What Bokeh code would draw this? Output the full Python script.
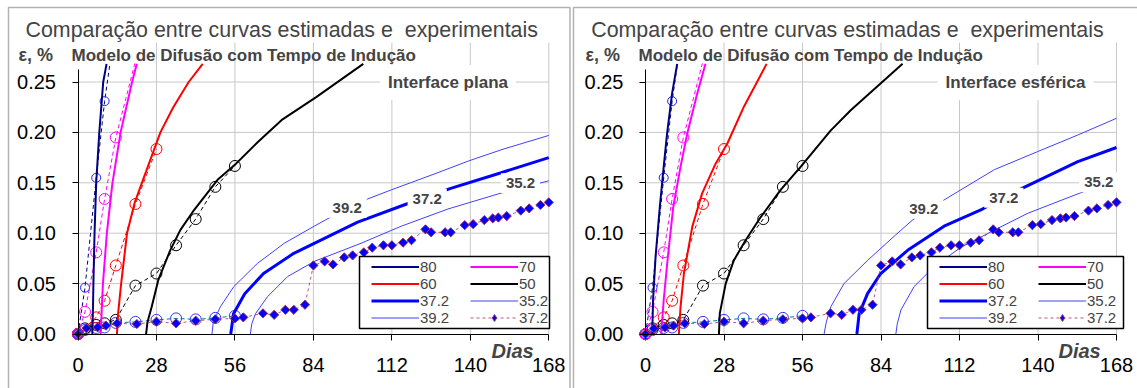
import math
from bokeh.plotting import figure
from bokeh.models import (Range1d, FixedTicker, PrintfTickFormatter, Label, Legend,
                          LegendItem, BoxAnnotation)
from bokeh.layouts import row
from bokeh.embed import file_html
from bokeh.resources import INLINE

FONT = "Liberation Sans"

x_ticks = [0, 28, 56, 84, 112, 140, 168]
y_ticks = [0.00, 0.05, 0.10, 0.15, 0.20, 0.25]

# ---------------- experimental data (same in both panels) ----------------
exp80_days = [0, 2.5, 6.5, 9.5, 13.5]
exp80_eps = [0, 0.046, 0.155, 0.231, 0.309]
exp70_days = [0, 2.5, 6.5, 9.5, 13.5, 21]
exp70_eps = [0, 0.022, 0.081, 0.134, 0.195, 0.276]
exp60_days = [0, 6.5, 9.5, 13.5, 20.5, 28]
exp60_eps = [0, 0.0165, 0.033, 0.068, 0.129, 0.1835]
exp50_days = [0, 2.5, 6.5, 9.5, 13.5, 20.5, 28, 35, 42, 49, 56]
exp50_eps = [0, 0.0056, 0.009, 0.0106, 0.014, 0.048, 0.060, 0.088, 0.114, 0.146, 0.1667]
exp372c_days = [0, 2.5, 6.5, 9.5, 13.5, 20.5, 28, 35, 42, 49, 56]
exp372c_eps = [0, 0.004, 0.006, 0.0065, 0.011, 0.012, 0.014, 0.0155, 0.0145, 0.016, 0.018]

dia_days = [0, 3, 7, 10, 14, 21, 28, 35, 42, 49, 56, 59, 66, 70, 74, 77, 81, 84, 88, 91,
            95, 98, 102, 105, 109, 112, 116, 119, 124, 126, 131, 133, 138, 141, 145, 148,
            150, 153, 158, 161, 165, 168]
dia_eps = [0, 0.0056, 0.0066, 0.0083, 0.0106, 0.0099, 0.0122, 0.0106, 0.0132, 0.0146,
           0.0155, 0.0165, 0.0205, 0.019, 0.024, 0.024, 0.029, 0.068, 0.072, 0.069,
           0.076, 0.078, 0.081, 0.0856, 0.088, 0.088, 0.0906, 0.093, 0.1038, 0.1009,
           0.1009, 0.1009, 0.108, 0.109, 0.113, 0.1147, 0.1155, 0.117, 0.1224, 0.1246,
           0.128, 0.1306]

# ---------------- model curves: planar interface ----------------
pl80_days = [5.1, 5.3, 5.5, 5.9, 6.5, 7.6, 9.0, 10.2]
pl80_eps = [0, 0.02, 0.05, 0.10, 0.15, 0.20, 0.25, 0.268]
pl70_days = [8.1, 8.4, 8.9, 10.3, 12.3, 15.2, 19.3, 21.0]
pl70_eps = [0, 0.02, 0.05, 0.10, 0.15, 0.20, 0.25, 0.268]
pl60_days = [13.9, 14.3, 15.4, 17.5, 20.2, 22.8, 29.4, 34.0, 39.5, 44.5]
pl60_eps = [0, 0.02, 0.05, 0.10, 0.13, 0.15, 0.20, 0.225, 0.25, 0.268]
pl50_days = [24.3, 24.8, 26.3, 28.7, 32.9, 36.5, 41.4, 49.8, 56.4, 64, 73, 85, 101.8]
pl50_eps = [0, 0.012, 0.027, 0.054, 0.083, 0.103, 0.123, 0.153, 0.169, 0.19, 0.213, 0.235, 0.268]
pl392_days = [47.8, 48.3, 50.8, 55.6, 64, 73.6, 84.3, 96, 103.4, 111.8, 127.4, 139.4, 151.3, 168]
pl392_eps = [0, 0.012, 0.027, 0.047, 0.070, 0.090, 0.107, 0.125, 0.134, 0.143, 0.159, 0.1717, 0.183, 0.197]
pl372_days = [54.5, 55.5, 59.5, 66.2, 77, 84.3, 99.8, 116.3, 133, 151, 168]
pl372_eps = [0, 0.02, 0.04, 0.06, 0.08, 0.09, 0.111, 0.128, 0.1445, 0.160, 0.175]
pl352_days = [61.5, 62, 63.3, 67.6, 74.8, 84.3, 101, 115.4, 132, 150, 168]
pl352_eps = [0, 0.01, 0.020, 0.037, 0.057, 0.072, 0.090, 0.107, 0.124, 0.139, 0.152]

# ---------------- model curves: spherical interface ----------------
sp80_days = [2.4, 2.7, 3.6, 5.1, 6.5, 7.7, 9.5, 11.3]
sp80_eps = [0, 0.034, 0.077, 0.126, 0.166, 0.199, 0.239, 0.268]
sp70_days = [5.6, 6.5, 8.0, 9.9, 12.5, 14.9, 18.5, 21.4]
sp70_eps = [0, 0.034, 0.077, 0.126, 0.166, 0.199, 0.239, 0.268]
sp60_days = [11.9, 12.5, 13.7, 16.7, 20.2, 25, 29.2, 35.1, 43.2]
sp60_eps = [0, 0.027, 0.060, 0.1065, 0.1395, 0.169, 0.189, 0.2255, 0.268]
sp50_days = [26.2, 26.5, 28.6, 31.5, 35.7, 41.1, 48.2, 55.4, 66.1, 73.2, 91.7]
sp50_eps = [0, 0.0205, 0.050, 0.073, 0.093, 0.116, 0.143, 0.166, 0.202, 0.222, 0.268]
sp392_days = [63.7, 64.5, 66.1, 70.8, 79.2, 88.7, 95.2, 99.4, 106.5, 124.4, 139.9, 154.2, 168]
sp392_eps = [0, 0.012, 0.027, 0.050, 0.073, 0.097, 0.113, 0.121, 0.133, 0.163, 0.181, 0.1974, 0.214]
sp372_days = [75.4, 76.2, 79.2, 83.9, 93.5, 106.5, 120.2, 128, 136.9, 154.2, 168]
sp372_eps = [0, 0.020, 0.040, 0.060, 0.083, 0.107, 0.124, 0.136, 0.148, 0.171, 0.185]
sp352_days = [89.3, 89.8, 91.1, 95.8, 103, 112.5, 124.4, 136.3, 154.2, 161.9, 168]
sp352_eps = [0, 0.01, 0.0238, 0.047, 0.067, 0.086, 0.103, 0.1197, 0.139, 0.147, 0.154]

curve_label_texts = ["39.2", "37.2", "35.2"]

NAVY = "#000080"
MAG = "#FF00FF"
RED = "#FF0000"
BLK = "#000000"
BLUE = "#0000FF"
LBLUE = "#4040FF"
PLUM = "#993366"

H = 388
Y0, Y25 = 333.5, 81.5          # page pixel rows of 0.00 and 0.25
EPS_TOP = 0.268                # top of the plotting area


def make_panel(models, geom, interface_text, label_px, legend_px):
    X0, X168, CL, CW = geom["x0"], geom["x168"], geom["cl"], geom["cw"]

    def dx(X):
        return (X - X0) * 168.0 / (X168 - X0)

    def ey(Y):
        return (Y0 - Y) * 0.25 / (Y0 - Y25)

    (d80, e80), (d70, e70), (d60, e60), (d50, e50), (d392, e392), (d372, e372), (d352, e352) = models
    p = figure(width=CW, height=H, x_range=Range1d(dx(CL), dx(CL + CW)),
               y_range=Range1d(ey(H), ey(0)),
               output_backend="svg", toolbar_location=None, min_border=0,
               min_border_left=0, min_border_right=0, min_border_top=0, min_border_bottom=0,
               background_fill_color="white", border_fill_color="white",
               outline_line_color=None)
    p.xgrid.visible = False
    p.ygrid.visible = False

    for ax in (p.xaxis, p.yaxis):
        ax.fixed_location = 0
        ax.major_tick_out = 6
        ax.major_tick_in = 0
        ax.minor_tick_out = 0
        ax.minor_tick_in = 0
        ax.axis_line_color = "black"
        ax.major_tick_line_color = "black"
        ax.major_label_text_font = FONT
        ax.major_label_text_font_size = "20px"
        ax.major_label_text_color = "black"
    p.xaxis.ticker = FixedTicker(ticks=x_ticks)
    p.yaxis.ticker = FixedTicker(ticks=y_ticks)
    p.yaxis.formatter = PrintfTickFormatter(format="%.2f")
    p.xaxis.bounds = (0, 168)
    p.yaxis.bounds = (0, 0.262)
    p.xaxis.major_label_standoff = 18
    p.yaxis.major_label_standoff = 16

    # grid lines from the tick positions
    p.segment(x0=x_ticks[1:], y0=[0] * 6, x1=x_ticks[1:], y1=[ey(42)] * 6,
              line_color="#C8C8C8", line_width=1)
    p.segment(x0=[0] * 5, y0=y_ticks[1:], x1=[168] * 5, y1=y_ticks[1:],
              line_color="#C8C8C8", line_width=1)

    # experimental series (circles + dashed)
    p.line(exp372c_days, exp372c_eps, line_color="#008080", line_dash="4 3", line_width=1)
    p.scatter(exp372c_days, exp372c_eps, marker="circle", size=11, line_color="#3333FF",
              fill_color=None, line_width=1)
    p.line(exp50_days, exp50_eps, line_color=BLK, line_dash="4 3", line_width=1)
    p.scatter(exp50_days, exp50_eps, marker="circle", size=11, line_color=BLK, fill_color=None)
    p.line(exp60_days, exp60_eps, line_color=RED, line_dash="4 3", line_width=1)
    p.scatter(exp60_days, exp60_eps, marker="circle", size=11, line_color=RED, fill_color=None)
    p.line(exp70_days, exp70_eps, line_color=MAG, line_dash="4 3", line_width=1)
    p.scatter(exp70_days, exp70_eps, marker="circle", size=11, line_color=MAG, fill_color=None)
    p.line(exp80_days, exp80_eps, line_color=NAVY, line_dash="4 3", line_width=1)
    p.scatter(exp80_days, exp80_eps, marker="circle", size=9, line_color="#2222FF", fill_color=None)

    # model curves
    r352 = p.line(d352, e352, line_color=LBLUE, line_width=1)
    r392 = p.line(d392, e392, line_color=LBLUE, line_width=1)
    r372 = p.line(d372, e372, line_color=BLUE, line_width=3)
    r50 = p.line(d50, e50, line_color=BLK, line_width=2)
    r60 = p.line(d60, e60, line_color=RED, line_width=2)
    r70 = p.line(d70, e70, line_color=MAG, line_width=2)
    r80 = p.line(d80, e80, line_color=NAVY, line_width=2)

    # experimental 37.2 diamonds
    rdl = p.line(dia_days, dia_eps, line_color=PLUM, line_dash="3 3", line_width=1, line_alpha=0.8)
    rdia = p.scatter(dia_days, dia_eps, marker="diamond", size=8, fill_color=BLUE,
                     line_color=PLUM, line_width=1)
    p.scatter(dia_days, dia_eps, marker="square", angle=math.pi / 4, size=6.5,
              fill_color=BLUE, line_color=PLUM, line_width=1)

    # the plotting area ends at EPS_TOP: hide the dashed parts above it
    p.add_layout(BoxAnnotation(left=-3, right=26, bottom=EPS_TOP + 0.0005, top=ey(0),
                               fill_color="white", fill_alpha=1.0, line_color=None))

    # outer panel frame
    p.add_layout(BoxAnnotation(left=dx(geom["fl"]), right=dx(geom["fr"]), top=ey(7),
                               bottom=ey(H + 20), fill_alpha=0.0, line_color="black",
                               line_width=1.5))

    # curve labels with white boxes
    for txt, (X, Y) in zip(curve_label_texts, label_px):
        p.add_layout(Label(x=dx(X), y=ey(Y), text=txt, text_font=FONT, text_font_size="15px",
                           text_font_style="bold", text_align="center",
                           text_baseline="middle", background_fill_color="white",
                           background_fill_alpha=1.0, padding=5))

    p.add_layout(Label(x=dx(geom["ix"]), y=ey(82), text=interface_text, text_font=FONT,
                       text_font_size="17px", text_font_style="bold", text_align="center",
                       text_baseline="middle", background_fill_color="white",
                       background_fill_alpha=1.0, padding=8))

    # titles and axis captions
    p.add_layout(Label(x=dx(geom["tx"]), y=ey(29),
                       text="Comparação entre curvas estimadas e \u00a0experimentais",
                       text_font=FONT, text_font_size="21.4px", text_baseline="alphabetic"))
    p.add_layout(Label(x=dx(geom["sx"]), y=ey(54.5), text="Modelo de Difusão com Tempo de Indução",
                       text_font=FONT, text_font_size="17px", text_font_style="bold",
                       text_baseline="alphabetic"))
    p.add_layout(Label(x=dx(geom["ex"]), y=ey(54.5), text="ε, %", text_font=FONT,
                       text_font_size="18px", text_font_style="bold", text_baseline="alphabetic"))
    p.add_layout(Label(x=dx(geom["dx"]), y=ey(350), text="Dias", text_font=FONT,
                       text_font_size="20px", text_font_style="bold italic",
                       text_baseline="alphabetic"))

    # legend
    bl, br = legend_px
    p.add_layout(BoxAnnotation(left=dx(bl), right=dx(br), top=ey(256), bottom=ey(328),
                               fill_color="white", fill_alpha=1.0, line_color="black",
                               line_width=1.5, line_alpha=1.0))
    items = [LegendItem(label="80", renderers=[r80]),
             LegendItem(label="60", renderers=[r60]),
             LegendItem(label="37.2", renderers=[r372]),
             LegendItem(label="39.2", renderers=[r392]),
             LegendItem(label="70", renderers=[r70]),
             LegendItem(label="50", renderers=[r50]),
             LegendItem(label="35.2", renderers=[r352]),
             LegendItem(label="37.2 ", renderers=[rdl, rdia])]
    leg = Legend(items=items, location=(bl + 12 - CL, H - 326), ncols=2,
                 orientation="vertical", padding=0, spacing=0, margin=0,
                 border_line_color=None, background_fill_alpha=0.0, glyph_width=48,
                 glyph_height=17, label_height=17, label_width=50, label_standoff=1,
                 label_text_font=FONT, label_text_font_size="15px")
    p.add_layout(leg, "center")
    return p


planar_models = [(pl80_days, pl80_eps), (pl70_days, pl70_eps), (pl60_days, pl60_eps),
                 (pl50_days, pl50_eps), (pl392_days, pl392_eps), (pl372_days, pl372_eps),
                 (pl352_days, pl352_eps)]
spher_models = [(sp80_days, sp80_eps), (sp70_days, sp70_eps), (sp60_days, sp60_eps),
                (sp50_days, sp50_eps), (sp392_days, sp392_eps), (sp372_days, sp372_eps),
                (sp352_days, sp352_eps)]

geom1 = dict(x0=77.5, x168=548.3, cl=0, cw=571, fl=8, fr=569.5,
             ix=447.5, tx=25, sx=71, ex=18, dx=491)
geom2 = dict(x0=645, x168=1116, cl=571, cw=566, fl=573, fr=1160,
             ix=1015, tx=590.7, sx=638, ex=585, dx=1058)

p1 = make_panel(planar_models, geom1, "Interface plana",
                [(346.7, 207.3), (426.7, 198.3), (520, 182.7)], (359, 549))
p2 = make_panel(spher_models, geom2, "Interface esférica",
                [(923.3, 208.3), (1003.3, 197.3), (1098.3, 181.7)], (927, 1123))

layout = row(p1, p2, spacing=0)
open("out.html", "w").write(file_html(layout, INLINE))
